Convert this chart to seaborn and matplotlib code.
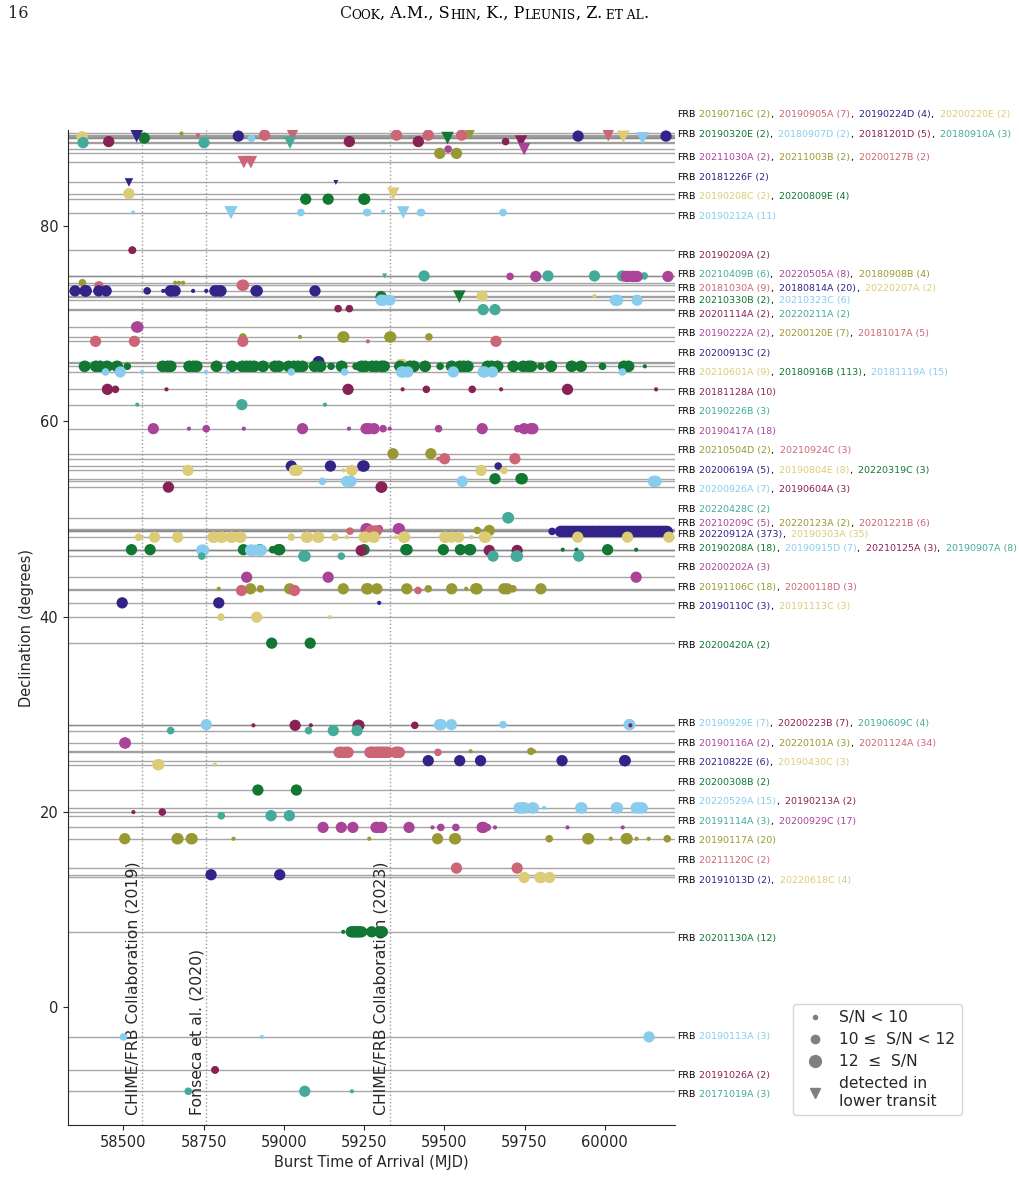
import numpy as np
import pandas as pd
import matplotlib
matplotlib.use("Agg")
import matplotlib.pyplot as plt
import matplotlib.transforms as mtransforms
from matplotlib.lines import Line2D
from matplotlib.ticker import MultipleLocator
import seaborn as sns

# repeating sources, north to south
names = ["20190716C", "20190905A", "20190224D", "20200220E",
         "20190320E", "20180907D", "20181201D", "20180910A",
         "20211030A", "20211003B", "20200127B",
         "20181226F",
         "20190208C", "20200809E",
         "20190212A",
         "20190209A",
         "20210409B", "20220505A", "20180908B",
         "20181030A", "20180814A", "20220207A",
         "20210330B", "20210323C",
         "20201114A", "20220211A",
         "20190222A", "20200120E", "20181017A",
         "20200913C",
         "20210601A", "20180916B", "20181119A",
         "20181128A",
         "20190226B",
         "20190417A",
         "20210504D", "20210924C",
         "20200619A", "20190804E", "20220319C",
         "20200926A", "20190604A",
         "20220428C",
         "20210209C", "20220123A", "20201221B",
         "20220912A", "20190303A",
         "20190208A", "20190915D", "20210125A", "20190907A",
         "20200202A",
         "20191106C", "20200118D",
         "20190110C", "20191113C",
         "20200420A",
         "20190929E", "20200223B", "20190609C",
         "20190116A", "20220101A", "20201124A",
         "20210822E", "20190430C",
         "20200308B",
         "20220529A", "20190213A",
         "20191114A", "20200929C",
         "20190117A",
         "20211120C",
         "20191013D", "20220618C",
         "20201130A",
         "20190113A",
         "20191026A",
         "20171019A"]
counts = [2, 7, 4, 2, 2, 2, 5, 3, 2, 2, 2, 2, 2, 4, 11, 2, 6, 8, 4, 9, 20, 2,
          2, 6, 2, 2, 2, 7, 5, 2, 9, 113, 15, 10, 3, 18, 2, 3, 5, 8, 3, 7, 3,
          2, 5, 2, 6, 373, 35, 18, 7, 3, 8, 3, 18, 3, 3, 3, 2, 7, 7, 4, 2, 3,
          34, 6, 3, 2, 15, 2, 3, 17, 20, 2, 2, 4, 12, 3, 2, 3]
decs = [89.50, 89.33, 89.23, 89.16, 89.03, 89.00, 88.67, 88.56,
        87.90, 87.46, 86.56, 84.48, 83.33, 82.77, 81.40, 77.54,
        74.90, 74.85, 74.20, 73.95, 73.37, 72.85, 72.78, 72.41,
        71.55, 71.45, 69.67, 68.65, 68.20, 66.10, 66.00, 65.64, 65.06,
        63.28, 61.71, 59.25, 56.68, 56.17, 55.42, 54.97, 54.12,
        53.85, 53.26, 50.12, 48.99, 48.82, 48.75, 48.72, 48.13,
        46.85, 46.80, 46.77, 46.19, 44.03, 42.84, 42.67, 41.40, 39.93,
        37.27, 28.92, 28.85, 28.31, 27.04, 26.19, 26.08, 25.23, 24.82,
        22.22, 20.39, 19.96, 19.59, 18.39, 17.23, 14.22, 13.54, 13.26,
        7.69, -3.08, -6.46, -8.65]
# which label row on the right each source is listed in
label_line = [0, 0, 0, 0, 1, 1, 1, 1, 2, 2, 2, 3, 4, 4, 5, 6, 7, 7, 7,
              8, 8, 8, 9, 9, 10, 10, 11, 11, 11, 12, 13, 13, 13, 14, 15,
              16, 17, 17, 18, 18, 18, 19, 19, 20, 21, 21, 21, 22, 22,
              23, 23, 23, 23, 24, 25, 25, 26, 26, 27, 28, 28, 28,
              29, 29, 29, 30, 30, 31, 32, 32, 33, 33, 34, 35, 36, 36,
              37, 38, 39, 40]
colour_cycle = ["#999933", "#CC6677", "#332288", "#DDCC77", "#117733",
                "#88CCEE", "#882255", "#44AA99", "#AA4499"]

# bursts: (MJD, S/N class 0: <10, 1: 10-12, 2: >=12, lower transit flag)
bursts = [
    [(58681, 0, 0), (59580, 2, 1)],
    [(58732, 0, 0), (58940, 2, 0), (59027, 2, 1), (59351, 2, 0), (59450, 2, 0), (59554, 2, 0), (60011, 2, 1)],
    [(58541, 2, 1), (58858, 2, 0), (59917, 2, 0), (60191, 2, 0)],
    [(58371, 2, 0), (60058, 2, 1)],
    [(58565, 2, 0), (59510, 2, 1)],
    [(58899, 1, 0), (60118, 2, 1)],
    [(58454, 2, 0), (59204, 2, 0), (59419, 2, 0), (59691, 1, 0), (59739, 2, 1)],
    [(58374, 2, 0), (58751, 2, 0), (59019, 2, 1)],
    [(59512, 1, 0), (59749, 2, 1)],
    [(59486, 2, 0), (59538, 2, 0)],
    [(58875, 2, 1), (58897, 2, 1)],
    [(58517, 1, 1), (59162, 0, 1)],
    [(58517, 2, 0), (59341, 2, 1)],
    [(59068, 2, 0), (59138, 2, 0), (59249, 2, 0), (59252, 2, 0)],
    [(58530, 0, 0), (58834, 2, 1), (58836, 2, 1), (59053, 1, 0), (59258, 1, 0), (59261, 1, 0),
     (59309, 0, 1), (59372, 2, 1), (59426, 1, 0), (59429, 1, 0), (59683, 1, 0)],
    [(58527, 1, 0), (58528, 1, 0)],
    [(59314, 0, 1), (59437, 2, 0), (59823, 2, 0), (59968, 2, 0), (60055, 2, 0), (60123, 1, 0)],
    [(59705, 1, 0), (59785, 2, 0), (60067, 2, 0), (60073, 2, 0), (60086, 2, 0), (60092, 2, 0),
     (60101, 2, 0), (60197, 2, 0)],
    [(58372, 1, 0), (58661, 0, 0), (58673, 0, 0), (58686, 0, 0)],
    [(58421, 1, 0), (58422, 0, 0), (58424, 1, 0), (58425, 0, 0), (58426, 1, 0), (58427, 0, 0),
     (58428, 0, 0), (58870, 2, 0), (58874, 2, 0)],
    [(58349, 2, 0), (58380, 2, 0), (58382, 2, 0), (58384, 2, 0), (58423, 2, 0), (58446, 2, 0),
     (58574, 1, 0), (58624, 0, 0), (58646, 2, 0), (58650, 2, 0), (58661, 2, 0), (58717, 0, 0),
     (58758, 0, 0), (58785, 2, 0), (58790, 2, 0), (58800, 2, 0), (58804, 2, 0), (58913, 2, 0),
     (58917, 2, 0), (59097, 2, 0)],
    [(59618, 2, 0), (59968, 0, 0)],
    [(59303, 2, 0), (59547, 2, 1)],
    [(59303, 2, 0), (59310, 2, 0), (59330, 2, 0), (60033, 2, 0), (60040, 2, 0), (60101, 2, 0)],
    [(59169, 1, 0), (59204, 1, 0)],
    [(59621, 2, 0), (59658, 2, 0)],
    [(58541, 2, 0), (58545, 2, 0)],
    [(58872, 1, 0), (59050, 0, 0), (59184, 2, 0), (59187, 2, 0), (59330, 2, 0), (59333, 2, 0), (59452, 1, 0)],
    [(58413, 2, 0), (58534, 2, 0), (58872, 2, 0), (59262, 0, 0), (59661, 2, 0)],
    [(59107, 2, 0), (59109, 2, 0)],
    [(59362, 1, 0), (59364, 1, 0), (59365, 1, 0), (59366, 1, 0), (59367, 1, 0), (59368, 1, 0),
     (59369, 1, 0), (59370, 1, 0), (59371, 1, 0)],
    [(58378, 2, 0), (58380, 2, 0), (58413, 2, 0), (58415, 2, 0), (58426, 2, 0), (58428, 2, 0),
     (58448, 2, 0), (58450, 2, 0), (58479, 2, 0), (58481, 2, 0), (58512, 1, 0), (58621, 2, 0),
     (58623, 2, 0), (58636, 2, 0), (58638, 2, 0), (58646, 2, 0), (58648, 2, 0), (58704, 2, 0),
     (58706, 2, 0), (58717, 2, 0), (58719, 2, 0), (58727, 2, 0), (58729, 2, 0), (58789, 2, 0),
     (58791, 2, 0), (58837, 2, 0), (58839, 2, 0), (58869, 2, 0), (58871, 2, 0), (58882, 2, 0),
     (58884, 2, 0), (58894, 2, 0), (58896, 2, 0), (58906, 2, 0), (58908, 2, 0), (58934, 2, 0),
     (58936, 2, 0), (58971, 2, 0), (58973, 2, 0), (58983, 2, 0), (58985, 2, 0), (59014, 2, 0),
     (59016, 2, 0), (59030, 2, 0), (59032, 2, 0), (59043, 2, 0), (59045, 2, 0), (59057, 2, 0),
     (59059, 2, 0), (59095, 2, 0), (59097, 2, 0), (59113, 2, 0), (59115, 2, 0), (59147, 1, 0),
     (59179, 2, 0), (59181, 2, 0), (59225, 1, 0), (59241, 2, 0), (59243, 2, 0), (59253, 2, 0),
     (59255, 2, 0), (59274, 2, 0), (59276, 2, 0), (59287, 2, 0), (59289, 2, 0), (59303, 2, 0),
     (59305, 2, 0), (59311, 2, 0), (59313, 2, 0), (59361, 2, 0), (59363, 2, 0), (59392, 2, 0),
     (59394, 2, 0), (59404, 2, 0), (59406, 2, 0), (59439, 2, 0), (59441, 2, 0), (59487, 1, 0),
     (59522, 2, 0), (59524, 2, 0), (59547, 2, 0), (59549, 2, 0), (59559, 2, 0), (59561, 2, 0),
     (59572, 2, 0), (59574, 2, 0), (59634, 2, 0), (59636, 2, 0), (59646, 2, 0), (59648, 2, 0),
     (59665, 2, 0), (59667, 2, 0), (59714, 2, 0), (59716, 2, 0), (59745, 2, 0), (59747, 2, 0),
     (59761, 2, 0), (59763, 2, 0), (59770, 2, 0), (59772, 2, 0), (59801, 1, 0), (59832, 2, 0),
     (59834, 2, 0), (59896, 2, 0), (59898, 2, 0), (59925, 2, 0), (59927, 2, 0), (59937, 0, 0),
     (59993, 1, 0), (60059, 2, 0), (60061, 2, 0), (60073, 2, 0), (60075, 2, 0), (60125, 0, 0)],
    [(58444, 1, 0), (58490, 2, 0), (58558, 0, 0), (58757, 0, 0), (58825, 0, 0), (59023, 1, 0),
     (59189, 1, 0), (59367, 2, 0), (59372, 2, 0), (59386, 2, 0), (59528, 2, 0), (59621, 2, 0),
     (59626, 2, 0), (59650, 2, 0), (60055, 1, 0)],
    [(58450, 2, 0), (58475, 1, 0), (58634, 0, 0), (59200, 2, 0), (59370, 0, 0), (59444, 1, 0),
     (59587, 1, 0), (59677, 0, 0), (59884, 2, 0), (60160, 0, 0)],
    [(58543, 0, 0), (58869, 2, 0), (59128, 0, 0)],
    [(58593, 2, 0), (58704, 0, 0), (58758, 1, 0), (58875, 0, 0), (59058, 2, 0), (59203, 0, 0),
     (59256, 2, 0), (59265, 2, 0), (59281, 2, 0), (59309, 1, 0), (59330, 0, 0), (59482, 1, 0),
     (59618, 2, 0), (59729, 1, 0), (59740, 1, 0), (59749, 2, 0), (59770, 2, 0), (59776, 2, 0)],
    [(59340, 2, 0), (59458, 2, 0)],
    [(59481, 0, 0), (59501, 2, 0), (59720, 2, 0)],
    [(59023, 2, 0), (59145, 2, 0), (59246, 2, 0), (59250, 2, 0), (59668, 1, 0)],
    [(58701, 2, 0), (59033, 2, 0), (59038, 2, 0), (59041, 2, 0), (59186, 0, 0), (59212, 2, 0),
     (59615, 2, 0), (59686, 1, 0)],
    [(59658, 2, 0), (59739, 2, 0), (59743, 2, 0)],
    [(59120, 1, 0), (59196, 2, 0), (59209, 2, 0), (59556, 2, 0), (60152, 2, 0), (60155, 2, 0), (60160, 2, 0)],
    [(58640, 2, 0), (59303, 2, 0), (59305, 2, 0)],
    [(59698, 2, 0), (59700, 2, 0)],
    [(59256, 2, 0), (59260, 2, 0), (59297, 1, 0), (59357, 2, 0), (59360, 2, 0)],
    [(59603, 1, 0), (59640, 2, 0)],
    [(59206, 1, 0), (59270, 2, 0), (59278, 2, 0), (59283, 2, 0), (59288, 2, 0), (59292, 1, 0)],
    [(59836, 1, 0), (59862, 2, 0), (59866, 2, 0), (59871, 2, 0), (59874, 2, 0), (59879, 2, 0),
     (59884, 2, 0), (59887, 2, 0), (59893, 2, 0), (59897, 2, 0), (59902, 2, 0), (59905, 2, 0),
     (59911, 2, 0), (59914, 2, 0), (59920, 2, 0), (59925, 2, 0), (59928, 2, 0), (59934, 2, 0),
     (59937, 2, 0), (59942, 2, 0), (59947, 2, 0), (59951, 2, 0), (59955, 2, 0), (59961, 2, 0),
     (59964, 2, 0), (59969, 2, 0), (59973, 2, 0), (59978, 2, 0), (59983, 2, 0), (59986, 2, 0),
     (59991, 2, 0), (59996, 2, 0), (60000, 2, 0), (60004, 2, 0), (60009, 2, 0), (60013, 2, 0),
     (60018, 2, 0), (60022, 2, 0), (60026, 2, 0), (60031, 2, 0), (60035, 2, 0), (60040, 2, 0),
     (60044, 2, 0), (60049, 2, 0), (60053, 2, 0), (60057, 2, 0), (60062, 2, 0), (60066, 2, 0),
     (60071, 2, 0), (60075, 2, 0), (60080, 2, 0), (60084, 2, 0), (60088, 2, 0), (60093, 2, 0),
     (60097, 2, 0), (60102, 2, 0), (60106, 2, 0), (60110, 2, 0), (60115, 2, 0), (60119, 2, 0),
     (60124, 2, 0), (60128, 2, 0), (60133, 2, 0), (60137, 2, 0), (60141, 2, 0), (60146, 2, 0),
     (60150, 2, 0), (60155, 2, 0), (60159, 2, 0), (60163, 2, 0), (60168, 2, 0), (60172, 2, 0),
     (60177, 2, 0), (60181, 2, 0), (60186, 2, 0), (60190, 2, 0), (60195, 2, 0)],
    [(58547, 1, 0), (58597, 2, 0), (58669, 2, 0), (58779, 2, 0), (58783, 2, 0), (58804, 2, 0),
     (58808, 2, 0), (58835, 2, 0), (58839, 2, 0), (58862, 2, 0), (58866, 2, 0), (59023, 1, 0),
     (59070, 2, 0), (59074, 2, 0), (59105, 2, 0), (59109, 2, 0), (59159, 1, 0), (59196, 0, 0),
     (59250, 2, 0), (59254, 2, 0), (59278, 2, 0), (59282, 2, 0), (59349, 0, 0), (59373, 2, 0),
     (59377, 2, 0), (59501, 2, 0), (59505, 2, 0), (59522, 2, 0), (59545, 2, 0), (59584, 0, 0),
     (59625, 2, 0), (59629, 2, 0), (59916, 2, 0), (60071, 2, 0), (60200, 2, 0)],
    [(58525, 2, 0), (58583, 2, 0), (58874, 2, 0), (58925, 2, 0), (58965, 1, 0), (58983, 2, 0),
     (58987, 2, 0), (59250, 2, 0), (59380, 2, 0), (59384, 2, 0), (59497, 2, 0), (59550, 2, 0),
     (59578, 2, 0), (59582, 2, 0), (59869, 0, 0), (59912, 0, 0), (60009, 2, 0), (60098, 0, 0)],
    [(58744, 2, 0), (58750, 2, 0), (58896, 2, 0), (58900, 2, 0), (58910, 2, 0), (58925, 2, 0), (58930, 2, 0)],
    [(59241, 2, 0), (59640, 2, 0), (59727, 2, 0)],
    [(58744, 1, 0), (59062, 2, 0), (59066, 2, 0), (59179, 1, 0), (59652, 2, 0), (59724, 2, 0),
     (59728, 2, 0), (59919, 2, 0)],
    [(58884, 2, 0), (59138, 2, 0), (60098, 2, 0)],
    [(58797, 0, 0), (58896, 2, 0), (58927, 1, 0), (59018, 2, 0), (59185, 2, 0), (59258, 2, 0),
     (59262, 2, 0), (59290, 2, 0), (59383, 2, 0), (59450, 1, 0), (59523, 2, 0), (59568, 0, 0),
     (59598, 2, 0), (59602, 2, 0), (59686, 2, 0), (59696, 2, 0), (59714, 1, 0), (59801, 2, 0)],
    [(58868, 2, 0), (59033, 2, 0), (59418, 1, 0)],
    [(58496, 2, 0), (58797, 2, 0), (59297, 0, 0)],
    [(58804, 1, 0), (58915, 2, 0), (59143, 0, 0)],
    [(58962, 2, 0), (59082, 2, 0)],
    [(58758, 2, 0), (59485, 2, 0), (59490, 2, 0), (59522, 2, 0), (59683, 1, 0), (60076, 2, 0), (60078, 2, 0)],
    [(58905, 0, 0), (59035, 2, 0), (59084, 0, 0), (59231, 2, 0), (59234, 2, 0), (59408, 1, 0), (60080, 0, 0)],
    [(58647, 1, 0), (59077, 1, 0), (59154, 2, 0), (59228, 2, 0)],
    [(58504, 2, 0), (58506, 2, 0)],
    [(59582, 0, 0), (59770, 1, 0), (59780, 0, 0)],
    [(59172, 2, 0), (59175, 2, 0), (59178, 2, 0), (59182, 2, 0), (59190, 2, 0), (59194, 2, 0),
     (59197, 2, 0), (59200, 2, 0), (59268, 2, 0), (59270, 2, 0), (59272, 2, 0), (59275, 2, 0),
     (59278, 2, 0), (59282, 2, 0), (59286, 2, 0), (59290, 2, 0), (59293, 2, 0), (59296, 2, 0),
     (59300, 2, 0), (59303, 2, 0), (59305, 2, 0), (59308, 2, 0), (59311, 2, 0), (59315, 2, 0),
     (59318, 2, 0), (59322, 2, 0), (59325, 2, 0), (59348, 2, 0), (59350, 2, 0), (59353, 2, 0),
     (59355, 2, 0), (59358, 2, 0), (59360, 2, 0), (59480, 1, 0)],
    [(59450, 2, 0), (59548, 2, 0), (59613, 2, 0), (59867, 2, 0), (60062, 2, 0), (60064, 2, 0)],
    [(58607, 2, 0), (58610, 2, 0), (58785, 0, 0)],
    [(58919, 2, 0), (59039, 2, 0)],
    [(59733, 2, 0), (59738, 2, 0), (59745, 2, 0), (59750, 2, 0), (59774, 2, 0), (59778, 2, 0),
     (59811, 0, 0), (59925, 2, 0), (59929, 2, 0), (60036, 2, 0), (60040, 2, 0), (60098, 2, 0),
     (60105, 2, 0), (60112, 2, 0), (60117, 2, 0)],
    [(58531, 0, 0), (58621, 1, 0)],
    [(58805, 1, 0), (58960, 2, 0), (59017, 2, 0)],
    [(59122, 2, 0), (59179, 2, 0), (59215, 2, 0), (59287, 2, 0), (59290, 2, 0), (59302, 2, 0),
     (59305, 2, 0), (59390, 2, 0), (59463, 0, 0), (59489, 1, 0), (59536, 1, 0), (59618, 2, 0),
     (59622, 2, 0), (59634, 1, 0), (59658, 0, 0), (59884, 0, 0), (60056, 0, 0)],
    [(58504, 2, 0), (58667, 2, 0), (58670, 2, 0), (58711, 2, 0), (58714, 2, 0), (58843, 0, 0),
     (59266, 0, 0), (59479, 2, 0), (59532, 2, 0), (59535, 2, 0), (59827, 1, 0), (59947, 2, 0),
     (59950, 2, 0), (59955, 1, 0), (60019, 0, 0), (60067, 2, 0), (60070, 2, 0), (60099, 0, 0),
     (60137, 0, 0), (60195, 1, 0)],
    [(59538, 2, 0), (59727, 2, 0)],
    [(58773, 2, 0), (58987, 2, 0)],
    [(59749, 2, 0), (59798, 2, 0), (59802, 2, 0), (59828, 2, 0)],
    [(59185, 0, 0), (59210, 2, 0), (59215, 2, 0), (59220, 2, 0), (59225, 2, 0), (59230, 2, 0),
     (59235, 2, 0), (59242, 2, 0), (59250, 1, 0), (59274, 2, 0), (59300, 2, 0), (59307, 2, 0)],
    [(58500, 1, 0), (58931, 0, 0), (60138, 2, 0)],
    [(58785, 1, 0), (58786, 1, 0)],
    [(58702, 1, 0), (59065, 2, 0), (59212, 0, 0)],
]

# published catalogue cut-offs
ref_mjd = [58557, 58758, 59331]
ref_text = ["CHIME/FRB Collaboration (2019)", "Fonseca et al. (2020)",
            "CHIME/FRB Collaboration (2023)"]

snr_names = ["lo", "mid", "hi"]
src_colour = {n: colour_cycle[i % len(colour_cycle)] for i, n in enumerate(names)}

rows = []
for i, n in enumerate(names):
    for mjd, snr, low in bursts[i]:
        rows.append({"source": n, "mjd": mjd, "dec": decs[i],
                     "snr": snr_names[snr], "lower": low})
df = pd.DataFrame(rows)

sns.set_style("ticks")
fig = plt.figure(figsize=(10.19, 12.02), dpi=100)
ax = fig.add_axes([0.0667, 0.0641, 0.5957, 0.8277])

for d in decs:
    ax.axhline(d, color="gray", lw=1.0, alpha=0.7, zorder=1)

for x in ref_mjd:
    ax.axvline(x, color="#999999", ls=":", lw=1.0, zorder=1)
blend = mtransforms.blended_transform_factory(ax.transData, ax.transAxes)
for x, t in zip(ref_mjd, ref_text):
    ax.text(x - 5, 0.01, t, transform=blend, rotation=90, ha="right",
            va="bottom", fontsize=11.3)

circ_sizes = {"lo": 9, "mid": 30, "hi": 66}
tri_sizes = {"lo": 13, "mid": 38, "hi": 82}
sns.scatterplot(data=df[df["lower"] == 0], x="mjd", y="dec", hue="source",
                palette=src_colour, size="snr", sizes=circ_sizes, marker="o",
                linewidth=0, legend=False, ax=ax, zorder=3)
sns.scatterplot(data=df[df["lower"] == 1], x="mjd", y="dec", hue="source",
                palette=src_colour, size="snr", sizes=tri_sizes, marker="v",
                linewidth=0, legend=False, ax=ax, zorder=4)

ax.set_xlim(58327, 60219)
ax.set_ylim(-12.1, 89.85)
ax.xaxis.set_major_locator(MultipleLocator(250))
ax.ticklabel_format(axis="x", useOffset=False, style="plain")
ax.tick_params(labelsize=10.5)
ax.set_xlabel("Burst Time of Arrival (MJD)", fontsize=10.5)
ax.set_ylabel("Declination (degrees)", fontsize=10.5)
sns.despine(ax=ax)

# right-hand source labels on a 2-degree grid, spread so they do not overlap
n_lines = max(label_line) + 1
line_dec = np.array([np.mean([decs[i] for i in range(len(names)) if label_line[i] == g])
                     for g in range(n_lines)])
ly = 2 * np.floor(line_dec / 2) + 1
gap = 1.15
for _ in range(200):
    for g in range(n_lines - 1):
        d = ly[g] - ly[g + 1]
        if d < gap:
            ly[g] += (gap - d) / 2
            ly[g + 1] -= (gap - d) / 2
# the top rows sit above the frame, two degrees apart
if ly[0] - ly[1] < 2:
    ly[1] = ly[1] + 1.0
    ly[0] = ly[1] + 2.0

lab_tr = mtransforms.blended_transform_factory(ax.transAxes, ax.transData)
fs = 6.8


def chain(prev, s, colour, size, family=None):
    kw = {"family": family} if family else {}
    return ax.annotate(s, xy=(1, 0), xycoords=prev, va="bottom", ha="left",
                       color=colour, fontsize=size, annotation_clip=False, **kw)


for g in range(n_lines):
    members = [i for i in range(len(names)) if label_line[i] == g]
    t = ax.text(1.004, ly[g], "FRB", transform=lab_tr, va="center", ha="left",
                fontsize=fs, color="black", clip_on=False)
    for k, i in enumerate(members):
        lead = " " if k == 0 else "  "
        t = chain(t, f"{lead}{names[i]} ({counts[i]})", src_colour[names[i]], fs)
        if k < len(members) - 1:
            t = chain(t, ",", "black", fs)

handles = [
    Line2D([], [], ls="", marker="o", color="gray", markersize=3),
    Line2D([], [], ls="", marker="o", color="gray", markersize=6),
    Line2D([], [], ls="", marker="o", color="gray", markersize=8.5),
    Line2D([], [], ls="", marker="v", color="gray", markersize=6.5),
]
fig.legend(handles, ["S/N < 10", "10 ≤  S/N < 12", "12  ≤  S/N",
                     "detected in\nlower transit"],
           loc="lower left", bbox_to_anchor=(0.778, 0.0724), fontsize=11.2,
           borderaxespad=0, labelspacing=0.45, handletextpad=0.6)

# page header
fig.text(0.008, 0.985, "16", family="serif", fontsize=11.5, va="baseline")
header = "Cook, A.M., Shin, K., Pleunis, Z. et al."
runs = []
for ch in header:
    sz = 8.8 if ch.islower() else 11.5
    if ch == " " and runs:
        sz = runs[-1][1]
    if runs and runs[-1][1] == sz:
        runs[-1][0] += ch.upper()
    else:
        runs.append([ch.upper(), sz])
for k in range(len(runs) - 1):
    while runs[k][0].endswith(" "):
        runs[k][0] = runs[k][0][:-1]
        runs[k + 1][0] = " " + runs[k + 1][0]
t = fig.text(0.333, 0.985, runs[0][0], family="serif", fontsize=runs[0][1],
             va="baseline")
for s, sz in runs[1:]:
    t = chain(t, s, "black", sz, family="serif")

fig.savefig("out.png", dpi=100)
